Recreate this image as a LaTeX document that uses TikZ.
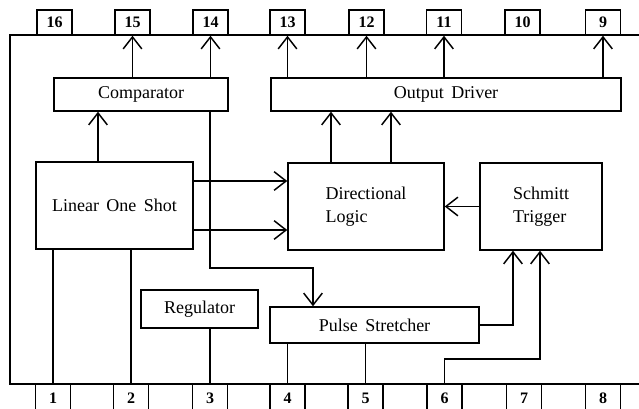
\documentclass[tikz,border=0pt]{standalone}
\usepackage{fontspec}
\setmainfont{Liberation Serif}
\usetikzlibrary{arrows.meta}
\tikzset{
  blk/.style={draw, line width=1.1pt, inner sep=0pt, font=\fontsize{13.5}{16}\selectfont},
  pin/.style={draw, line width=1.1pt, inner sep=0pt, minimum width=26.25pt, font=\fontsize{12}{13}\selectfont\bfseries},
  arr/.style={line width=1.1pt, -{Straight Barb[length=9pt,width=14pt,line width=1.1pt]}},
  ln/.style={line width=1.1pt}
}
\begin{document}
\begin{tikzpicture}[x=0.75pt,y=-0.75pt]
\clip (0,0) rectangle (639,409);
\fill[white] (0,0) rectangle (639,409);
% chip outline
\draw[ln] (660,35) -- (10,35) -- (10,384) -- (660,384);
% top pins
\foreach \n/\x in {16/54.5,15/132.5,14/210.5,13/287.5,12/366.5,11/444,10/522.5,9/603}
  \node[pin, minimum height=18.75pt] (p\n) at (\x,22.5) {\n};
% bottom pins
\foreach \n/\x in {1/53,2/131,3/210,4/287.5,5/365.5,6/444.5,7/524,8/603}
  \node[pin, minimum height=21pt] (p\n) at (\x,398) {\n};
% blocks
\node[blk, minimum width=130.5pt, minimum height=24.75pt] (comp) at (141,94.5) {Comparator};
\node[blk, minimum width=262.5pt, minimum height=24.75pt] (out) at (446,94.5) {Output\, Driver};
\node[blk, minimum width=117.75pt, minimum height=65.25pt] (los) at (114.5,205.5) {Linear\, One\, Shot};
\node[blk, minimum width=117pt, minimum height=65.25pt, align=left] (dl) at (366,206.5) {Directional\\[1pt]Logic};
\node[blk, minimum width=91.5pt, minimum height=65.25pt, align=left] (st) at (541,206.5) {Schmitt\\[1pt]Trigger};
\node[blk, minimum width=87.75pt, minimum height=28.5pt] (reg) at (199.5,309) {Regulator};
\node[blk, minimum width=156.75pt, minimum height=27pt] (ps) at (374.5,325) {Pulse\, Stretcher};
% helper coordinates
\coordinate (x98) at (98,0);
\coordinate (y181) at (0,181);
\coordinate (y230) at (0,230);
\coordinate (x331) at (331,0);
\coordinate (x391) at (391,0);
\coordinate (k1) at (210,268);
\coordinate (k2) at (313,268);
\coordinate (k3) at (513,325);
\coordinate (k4) at (444.5,359);
\coordinate (k5) at (540,359);
% arrows to top pins
\foreach \n in {15,14}
  \draw[arr] (p\n.south |- comp.north) -- (p\n.south);
\foreach \n in {13,12,11,9}
  \draw[arr] (p\n.south |- out.north) -- (p\n.south);
% internal connections
\draw[arr] (los.north -| x98) -- (comp.south -| x98);
\draw[arr] (los.east |- y181) -- (dl.west |- y181);
\draw[arr] (los.east |- y230) -- (dl.west |- y230);
\draw[arr] (dl.north -| x331) -- (out.south -| x331);
\draw[arr] (dl.north -| x391) -- (out.south -| x391);
\draw[arr] (st.west) -- (dl.east);
\draw[arr] (comp.south -| k1) -- (k1) -- (k2) -- (ps.north -| k2);
\draw[arr] (ps.east) -- (k3) -- (st.south -| k3);
\draw[arr] (p6.north) -- (k4) -- (k5) -- (st.south -| k5);
% lines to bottom pins
\draw[ln] (los.south -| p1.north) -- (p1.north);
\draw[ln] (los.south -| p2.north) -- (p2.north);
\draw[ln] (reg.south -| p3.north) -- (p3.north);
\draw[ln] (ps.south -| p4.north) -- (p4.north);
\draw[ln] (ps.south -| p5.north) -- (p5.north);
\end{tikzpicture}
\end{document}
